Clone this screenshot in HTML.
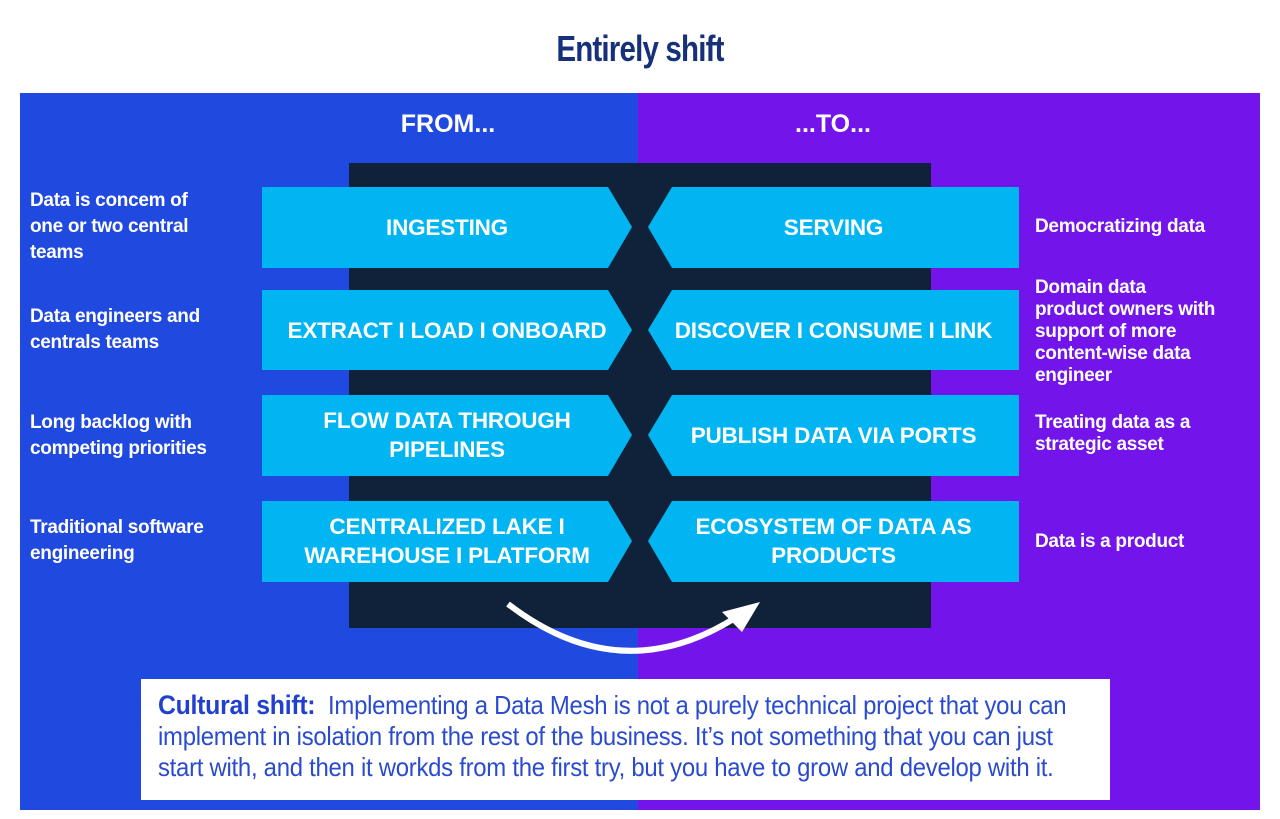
<!DOCTYPE html>
<html><head><meta charset="utf-8"><style>
body{margin:0;width:1280px;height:819px;background:#fff;position:relative;overflow:hidden;font-family:"Liberation Sans",sans-serif}
.a{position:absolute}
.side{position:absolute;color:#fff;font-weight:bold;font-size:19px;line-height:22px;letter-spacing:-0.3px}
.lbl{position:absolute;color:#fff;font-weight:bold;font-size:22.5px;line-height:29px;text-align:center;display:flex;align-items:center;justify-content:center;height:80px;letter-spacing:-0.2px}
</style></head><body>
<div class="a" style="left:0;top:28px;width:1280px;text-align:center;font-size:36px;font-weight:bold;color:#16307a;letter-spacing:-1px;transform:scaleX(0.82)">Entirely shift</div>
<div class="a" style="left:20px;top:93px;width:618px;height:717px;background:#2049e0"></div>
<div class="a" style="left:638px;top:93px;width:622px;height:717px;background:#7314ea"></div>
<div class="a" style="left:349px;top:163px;width:582px;height:465px;background:#10223a"></div>
<div class="a" style="left:298px;top:110px;width:300px;text-align:center;color:#fff;font-weight:bold;font-size:25px">FROM...</div>
<div class="a" style="left:683px;top:110px;width:300px;text-align:center;color:#fff;font-weight:bold;font-size:25px">...TO...</div>
<svg class="a" style="left:0;top:0" width="1280" height="819">
<g fill="#00b5f1">
<polygon points="262,187 608,187 632,227 608,268 262,268"/>
<polygon points="262,290 608,290 632,330 608,370 262,370"/>
<polygon points="262,395 608,395 632,435 608,476 262,476"/>
<polygon points="262,501 608,501 632,541 608,582 262,582"/>
<polygon points="1019,187 672,187 648,227 672,268 1019,268"/>
<polygon points="1019,290 672,290 648,330 672,370 1019,370"/>
<polygon points="1019,395 672,395 648,435 672,476 1019,476"/>
<polygon points="1019,501 672,501 648,541 672,582 1019,582"/>
</g>
<path d="M508,604 Q620,690 735,618" stroke="#fff" stroke-width="6" fill="none"/>
<polygon points="760,602 722,612 742,632" fill="#fff"/>
</svg>
<div class="lbl" style="left:262px;top:187px;width:370px">INGESTING</div>
<div class="lbl" style="left:262px;top:290px;width:370px">EXTRACT I LOAD I ONBOARD</div>
<div class="lbl" style="left:262px;top:395px;width:370px">FLOW DATA THROUGH<br>PIPELINES</div>
<div class="lbl" style="left:262px;top:501px;width:370px">CENTRALIZED LAKE I<br>WAREHOUSE I PLATFORM</div>
<div class="lbl" style="left:648px;top:187px;width:371px">SERVING</div>
<div class="lbl" style="left:648px;top:290px;width:371px">DISCOVER I CONSUME I LINK</div>
<div class="lbl" style="left:648px;top:395px;width:371px">PUBLISH DATA VIA PORTS</div>
<div class="lbl" style="left:648px;top:501px;width:371px">ECOSYSTEM OF DATA AS<br>PRODUCTS</div>
<div class="side" style="left:30px;top:188px;width:230px;line-height:26px">Data is concem of<br>one or two central<br>teams</div>
<div class="side" style="left:30px;top:304px;line-height:26px">Data engineers and<br>centrals teams</div>
<div class="side" style="left:30px;top:410px;line-height:26px">Long backlog with<br>competing priorities</div>
<div class="side" style="left:30px;top:515px;line-height:26px">Traditional software<br>engineering</div>
<div class="side" style="left:1035px;top:216px">Democratizing data</div>
<div class="side" style="left:1035px;top:277px">Domain data<br>product owners with<br>support of more<br>content-wise data<br>engineer</div>
<div class="side" style="left:1035px;top:412px">Treating data as a<br>strategic asset</div>
<div class="side" style="left:1035px;top:531px">Data is a product</div>
<div class="a" style="left:141px;top:679px;width:969px;height:121px;background:#fff"></div>
<div class="a" style="left:158px;top:690px;width:1150px;font-size:26px;line-height:31px;color:#2a4bd0;letter-spacing:-0.3px;transform:scaleX(0.92);transform-origin:0 0;white-space:nowrap"><b style="font-size:27px;color:#2140d0">Cultural shift:</b>&nbsp; Implementing a Data Mesh is not a purely technical project that you can<br>implement in isolation from the rest of the business. It’s not something that you can just<br>start with, and then it workds from the first try, but you have to grow and develop with it.</div>
</body></html>
